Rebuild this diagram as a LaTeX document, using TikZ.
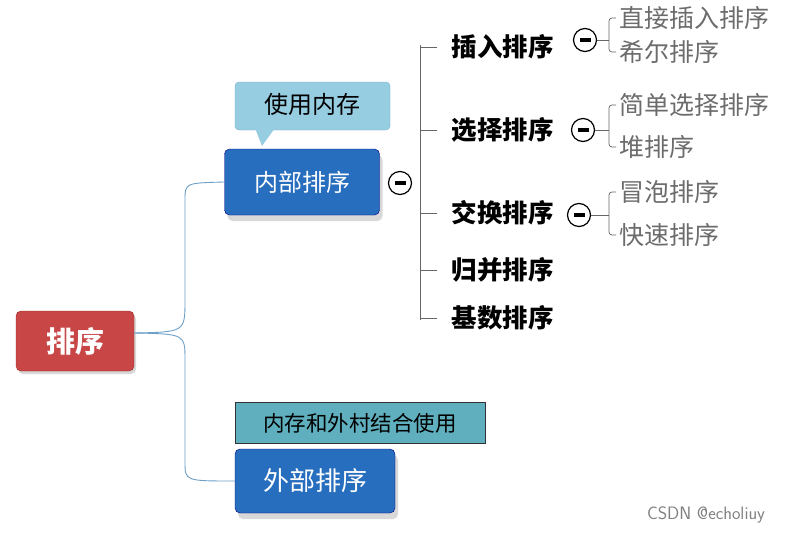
\documentclass[tikz,border=0pt]{standalone}
\usepackage{fontspec}
\setmainfont{Noto Sans CJK SC}
\usetikzlibrary{shadows}
\definecolor{bfill}{RGB}{40,110,190}
\definecolor{rfill}{RGB}{200,70,70}
\definecolor{rdraw}{RGB}{160,40,40}
\definecolor{cfill}{RGB}{150,205,225}
\definecolor{cdraw}{RGB}{120,180,205}
\definecolor{tfill}{RGB}{95,175,190}
\definecolor{lconn}{RGB}{110,160,200}
\begin{document}
\begin{tikzpicture}[x=1pt,y=-1pt,
 bluebox/.style={draw=blue!50!black,fill=bfill,rounded corners=5pt,text=white,font=\fontsize{24}{28}\selectfont,minimum width=155pt,minimum height=66pt,drop shadow={shadow xshift=3pt,shadow yshift=-6pt,opacity=0.3}},
 mainitem/.style={font=\bfseries\fontsize{25.5}{28}\selectfont,anchor=west},
 subitem/.style={text=gray!85!black,font=\fontsize{25}{28}\selectfont,anchor=west,inner sep=1pt},
 minus/.style={circle,draw,line width=1.2pt,fill=white,minimum size=23pt,inner sep=0pt,path picture={\fill[black] (path picture bounding box.center)++(-5.5pt,-1.8pt) rectangle ++(11pt,3.6pt);}},
 conn/.style={draw=lconn,line width=0.9pt},
 brk/.style={draw=gray!80!black,line width=1pt}]
\useasboundingbox (0,0) rectangle (796,536);
\fill[white] (0,0) rectangle (796,536);
% root
\node[draw=rdraw,fill=rfill,rounded corners=5pt,text=white,font=\bfseries\fontsize{29}{32}\selectfont,minimum width=118pt,minimum height=60pt,drop shadow={shadow xshift=2pt,shadow yshift=-3pt,opacity=0.3}] (root) at (75,341) {排序};
\node[bluebox] (inner) at (302,182) {内部排序};
\node[bluebox,minimum width=160pt,minimum height=64pt,font=\fontsize{26}{30}\selectfont] (outer) at (315,481) {外部排序};
% callouts
\path[fill=cfill,draw=cdraw,rounded corners=4pt] (235,82) rectangle (390,130);
\fill[cfill] (255,128) -- (275,128) -- (262,146) -- cycle;
\node[font=\fontsize{24}{28}\selectfont] (mem) at (312,104) {使用内存};
\node[draw=black!80,line width=1pt,fill=tfill,minimum width=250pt,minimum height=41pt,inner sep=0pt,font=\fontsize{21.5}{24}\selectfont] (memx) at (360,423) {内存和外村结合使用};
% connectors from root
\draw[conn] (root.east) ++(0,-8) coordinate (r1) .. controls (185,332) .. (185,300) -- (185,200) .. controls (185,183) .. (inner.west);
\draw[conn] (r1) .. controls (185,334) .. (185,360) -- (185,462) .. controls (185,481) .. (outer.west);
% inner minus and bracket
\node[minus] (m0) at (400,183) {};
\draw[brk] (420,45) -- (420,320);
\foreach \y/\t/\n in {47/插入排序/a,130/选择排序/b,213/交换排序/c,270/归并排序/d,318/基数排序/e}{
  \draw[brk] (420,\y) -- (437,\y);
  \node[mainitem] (\n) at (448,\y) {\t};
}
\node[minus] (ma) at (585,40) {};
\node[minus] (mb) at (583,130) {};
\node[minus] (mc) at (579,215) {};
\foreach \m/\ya/\yb/\ta/\tb in {ma/18/52/直接插入排序/希尔排序,mb/105/147/简单选择排序/堆排序,mc/192/235/冒泡排序/快速排序}{
  \draw[brk,line width=0.7pt] (\m.east) -- (609,0 |- \m.east);
  \draw[brk,line width=0.7pt,rounded corners=3pt] (616,\ya) -- (609,\ya) -- (609,\yb) -- (616,\yb);
  \node[subitem] at (618,\ya) {\ta};
  \node[subitem] at (618,\yb) {\tb};
}
\node[text=gray,font=\fontsize{18}{20}\selectfont\sffamily] (wm) at (706,515) {CSDN @echoliuy};
\end{tikzpicture}
\end{document}
